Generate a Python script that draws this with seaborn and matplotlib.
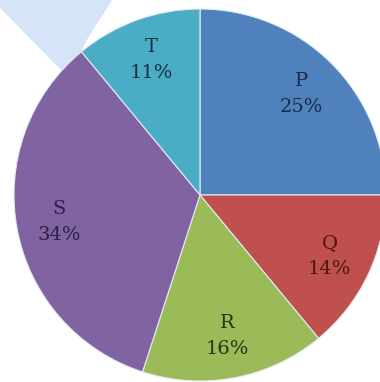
import matplotlib
matplotlib.use("Agg")
import matplotlib.pyplot as plt
from matplotlib.patches import Polygon
import seaborn as sns

# Share of each group (percent), drawn clockwise from 12 o'clock
categories = ["P", "Q", "R", "S", "T"]
shares = [25, 14, 16, 34, 11]
slice_colors = ["#4F81BD", "#C0504D", "#9BBB59", "#8064A2", "#4BACC6"]
label_colors = ["#1B2A4A", "#4A1614", "#24340F", "#2E1D45", "#15313D"]

sns.set_theme(style="white")
plt.rcParams["font.family"] = ["DejaVu Serif"]

W, H = 380, 382
fig = plt.figure(figsize=(W / 100, H / 100), dpi=100)
ax = fig.add_axes([0, 0, 1, 1])

# pale blue band in the top-left corner
band = [(0, H), (112, H), (106, H - 10), (98, H - 22), (88, H - 38),
        (80, H - 54), (63, H - 72), (0, H - 8)]
ax.add_patch(Polygon(band, closed=True, facecolor="#D6E4F7",
                     edgecolor="none", zorder=0))

names = iter(categories)


def fmt(p):
    return f"{next(names)}\n{p:.0f}%"


wedges, _, pct_texts = ax.pie(
    shares,
    colors=sns.color_palette(slice_colors),
    startangle=90,
    counterclock=False,
    center=(200, H - 195),
    radius=186,
    autopct=fmt,
    pctdistance=0.77,
    wedgeprops=dict(edgecolor="#E4EAF2", linewidth=0.8),
    textprops=dict(fontsize=14, linespacing=1.55),
    frame=True,
)
for t, c in zip(pct_texts, label_colors):
    t.set_color(c)
    t.set_ha("center")
    t.set_va("center")

ax.set_xlim(0, W)
ax.set_ylim(0, H)
ax.set_aspect("equal")
ax.axis("off")

fig.savefig("out.png", dpi=100)
